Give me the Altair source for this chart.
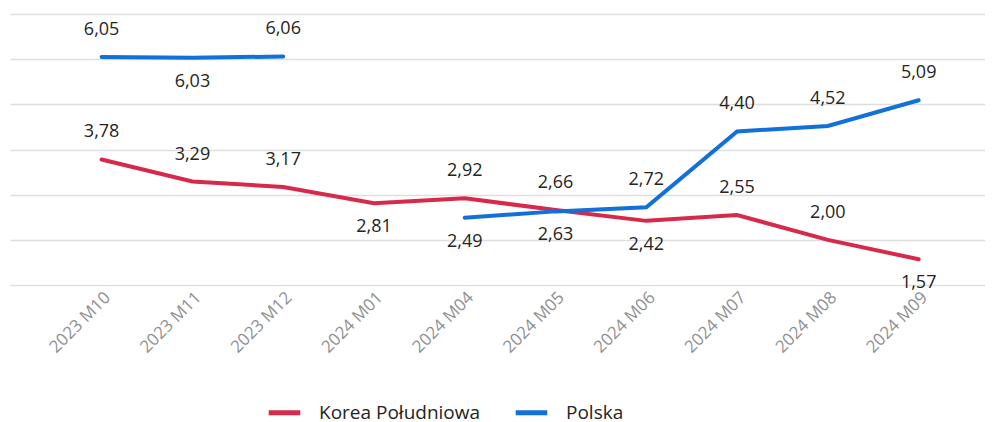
import altair as alt
import pandas as pd

months = ["2023 M10", "2023 M11", "2023 M12", "2024 M01", "2024 M04",
          "2024 M05", "2024 M06", "2024 M07", "2024 M08", "2024 M09"]
korea = [3.78, 3.29, 3.17, 2.81, 2.92, 2.66, 2.42, 2.55, 2.00, 1.57]
polska = [6.05, 6.03, 6.06, None, 2.49, 2.63, 2.72, 4.40, 4.52, 5.09]
series_names = ["Korea Południowa", "Polska"]
colors = ["#D6294B", "#1170D9"]

# label placement (style): 1 = above the point, -1 = below
korea_side = [1, 1, 1, -1, 1, 1, -1, 1, 1, -1]
polska_side = [1, -1, 1, 1, -1, -1, 1, 1, 1, 1]

rows = []
for name, vals, sides in [(series_names[0], korea, korea_side),
                          (series_names[1], polska, polska_side)]:
    for m, v, s in zip(months, vals, sides):
        rows.append({
            "month": m, "value": v, "series": name, "side": s,
            "label": (f"{v:.2f}".replace(".", ",") if v is not None else None),
        })
df = pd.DataFrame(rows)

FONT = "Open Sans"

x = alt.X("month:N", sort=months, title=None,
          scale=alt.Scale(type="point", padding=0.87, align=0.58),
          axis=alt.Axis(labelAngle=-45, labelColor="#8f8f8f", labelFontSize=17,
                        labelFont=FONT, ticks=False, domain=False, grid=False,
                        labelPadding=4))
y = alt.Y("value:Q", title=None,
          scale=alt.Scale(domain=[1, 7], nice=False, zero=False),
          axis=alt.Axis(values=[1, 2, 3, 4, 5, 6, 7], labels=False, ticks=False,
                        domain=False, grid=True, gridColor="#dedede", gridWidth=1.5))
color = alt.Color("series:N", sort=series_names,
                  scale=alt.Scale(domain=series_names, range=colors),
                  legend=alt.Legend(title=None, orient="none", direction="horizontal",
                                    legendX=256, legendY=380, labelLimit=0,
                                    symbolType="stroke", symbolStrokeWidth=5,
                                    symbolSize=1000, labelFontSize=19,
                                    labelFont=FONT, labelColor="#252423",
                                    columnPadding=24, labelOffset=16))

base = alt.Chart(df)

lines = base.mark_line(strokeWidth=4, strokeCap="round",
                       invalid="break-paths-show-domains").encode(
    x=x, y=y, color=color, detail="series:N")

above = base.transform_filter("datum.value != null && datum.side == 1").mark_text(
    dy=-27, fontSize=18, font=FONT, color="#252423", baseline="middle").encode(
    x=x, y=y, text="label:N")
below = base.transform_filter("datum.value != null && datum.side == -1").mark_text(
    dy=24, fontSize=18, font=FONT, color="#252423", baseline="middle").encode(
    x=x, y=y, text="label:N")

chart = alt.layer(lines, above, below).properties(
    width=975, height=271,
    padding={"left": 2, "top": 6, "right": 0, "bottom": 0},
).configure_view(stroke=None)

chart.save("out.html", embed_options={"renderer": "svg", "actions": False})
